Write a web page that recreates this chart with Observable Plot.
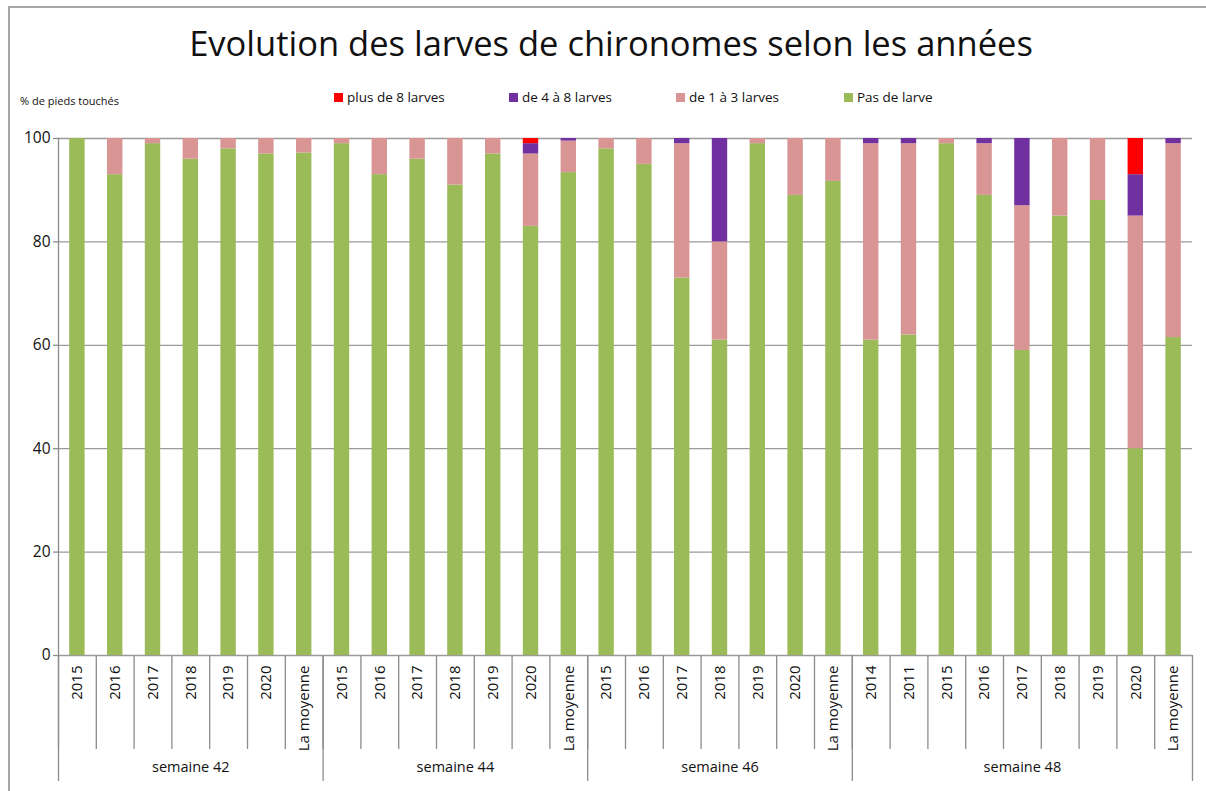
<!DOCTYPE html>
<html>
<head>
<meta charset="utf-8">
<script src="https://cdn.jsdelivr.net/npm/d3@7"></script>
<script src="https://cdn.jsdelivr.net/npm/@observablehq/plot@0.6"></script>
<style>
  html, body { margin: 0; padding: 0; background: #fff; overflow: hidden; }
  #wrap { position: relative; width: 1206px; height: 791px; overflow: hidden; font-family: "Open Sans", "Noto Sans", sans-serif; color: #111; }
  #bTop { position: absolute; left: 8px; top: 6px; width: 1198px; height: 2px; background: #a6a6a6; }
  #bLeft { position: absolute; left: 8px; top: 6px; width: 2px; height: 785px; background: #a6a6a6; }
  #title { position: absolute; left: 0; width: 1222px; top: 19px; text-align: center; font-size: 34.5px; white-space: nowrap; }
  #ylabel { position: absolute; left: 20px; top: 93px; font-size: 11px; white-space: nowrap; }
  .leg { position: absolute; top: 88px; font-size: 13.5px; white-space: nowrap; display: flex; align-items: center; }
  .leg span.sw { display: inline-block; width: 9px; height: 9px; margin-right: 4px; }
  #chart { position: absolute; left: 0; top: 110px; }
</style>
</head>
<body>
<div id="wrap">
  <div id="bTop"></div>
  <div id="bLeft"></div>
  <div id="title"></div>
  <div id="ylabel"></div>
  <div id="legend"></div>
  <div id="chart"></div>
</div>
<script>
const titleText = "Evolution des larves de chironomes selon les années";
const yLabel = "% de pieds touchés";

const groups = ["semaine 42", "semaine 44", "semaine 46", "semaine 48"];
const groupLabels = [
  ["2015", "2016", "2017", "2018", "2019", "2020", "La moyenne"],
  ["2015", "2016", "2017", "2018", "2019", "2020", "La moyenne"],
  ["2015", "2016", "2017", "2018", "2019", "2020", "La moyenne"],
  ["2014", "2011", "2015", "2016", "2017", "2018", "2019", "2020", "La moyenne"]
];

const series = ["Pas de larve", "de 1 à 3 larves", "de 4 à 8 larves", "plus de 8 larves"];
const colors = ["#9BBB59", "#D99594", "#7030A0", "#FF0000"];
const legendOrder = ["plus de 8 larves", "de 4 à 8 larves", "de 1 à 3 larves", "Pas de larve"];
const legendX = [334, 509, 676, 844];

const pasDeLarve = [100, 93, 99, 96, 98, 97, 97.2,  99, 93, 96, 91, 97, 83, 93.4,  98, 95, 73, 61, 99, 89, 91.7,  61, 62, 99, 89, 59, 85, 88, 40, 61.5];
const de1a3      = [0, 7, 1, 4, 2, 3, 2.8,          1, 7, 4, 9, 3, 14, 6.1,        2, 5, 26, 19, 1, 11, 8.3,    38, 37, 1, 10, 28, 15, 12, 45, 37.5];
const de4a8      = [0, 0, 0, 0, 0, 0, 0,            0, 0, 0, 0, 0, 2, 0.5,         0, 0, 1, 20, 0, 0, 0,        1, 1, 0, 1, 13, 0, 0, 8, 1];
const plus8      = [0, 0, 0, 0, 0, 0, 0,            0, 0, 0, 0, 0, 1, 0,           0, 0, 0, 0, 0, 0, 0,         0, 0, 0, 0, 0, 0, 0, 7, 0];

const yTicks = [0, 20, 40, 60, 80, 100];

// Build category keys
const cats = [];
groups.forEach((g, gi) => groupLabels[gi].forEach((l, li) => cats.push({key: g + "|" + li, label: l, group: g, gi, li})));
const keys = cats.map(c => c.key);
const labelOf = new Map(cats.map(c => [c.key, c.label]));
const groupStarts = groups.map((g, gi) => g + "|0");
const groupCenters = groups.map((g, gi) => ({key: g + "|" + Math.floor((groupLabels[gi].length - 1) / 2), group: g}));

const valuesBySeries = [pasDeLarve, de1a3, de4a8, plus8];
const tidy = [];
series.forEach((s, si) => keys.forEach((k, i) => tidy.push({key: k, series: s, value: valuesBySeries[si][i]})));

// Texts
document.getElementById("title").textContent = titleText;
document.getElementById("ylabel").textContent = yLabel;
const legend = document.getElementById("legend");
legendOrder.forEach((s, i) => {
  const d = document.createElement("div");
  d.className = "leg";
  d.style.left = legendX[i] + "px";
  const sw = document.createElement("span");
  sw.className = "sw";
  sw.style.background = colors[series.indexOf(s)];
  d.appendChild(sw);
  d.appendChild(document.createTextNode(s));
  legend.appendChild(d);
});

const W = 1206, H = 681;
const mL = 58, mR = 14, mT = 28, mB = 136;
const step = (W - mL - mR) / keys.length;
const lineColor = "#8c8c8c";

const chart = Plot.plot({
  width: W,
  height: H,
  marginTop: mT,
  marginBottom: mB,
  marginLeft: mL,
  marginRight: mR,
  style: {fontFamily: "'Open Sans', 'Noto Sans', sans-serif", color: "#111", background: "transparent"},
  x: {domain: keys, padding: 0, round: false, axis: null},
  y: {domain: [0, 100], axis: null},
  color: {domain: series, range: colors},
  marks: [
    Plot.ruleY(yTicks, {stroke: "#9a9a9a", strokeWidth: 1.3}),
    Plot.frame({anchor: "left", stroke: lineColor, strokeWidth: 1.3}),
    Plot.barY(tidy, {x: "key", y: "value", fill: "series", order: series, insetLeft: 11.2, insetRight: 11.2}),
    Plot.axisY({ticks: yTicks, tickSize: 5, tickPadding: 3, fontSize: 15.5, label: null, stroke: lineColor, strokeWidth: 1.3}),
    Plot.axisX({ticks: keys, tickSize: 94, tickFormat: () => "", dx: -step / 2, stroke: lineColor, strokeWidth: 1.3, label: null}),
    Plot.axisX({ticks: groupStarts, tickSize: 126, tickFormat: () => "", dx: -step / 2, stroke: lineColor, strokeWidth: 1.3, label: null}),
    Plot.axisX({ticks: [keys[keys.length - 1]], tickSize: 126, tickFormat: () => "", dx: step / 2, stroke: lineColor, strokeWidth: 1.3, label: null}),
    Plot.axisX({ticks: keys, tickSize: 0, tickPadding: 10, tickRotate: -90, tickFormat: k => labelOf.get(k), fontSize: 15, label: null}),
    Plot.text(groupCenters, {x: "key", frameAnchor: "bottom", dy: 116, text: "group", fontSize: 14.5, fill: "#111"})
  ]
});
document.getElementById("chart").appendChild(chart);
</script>
</body>
</html>
